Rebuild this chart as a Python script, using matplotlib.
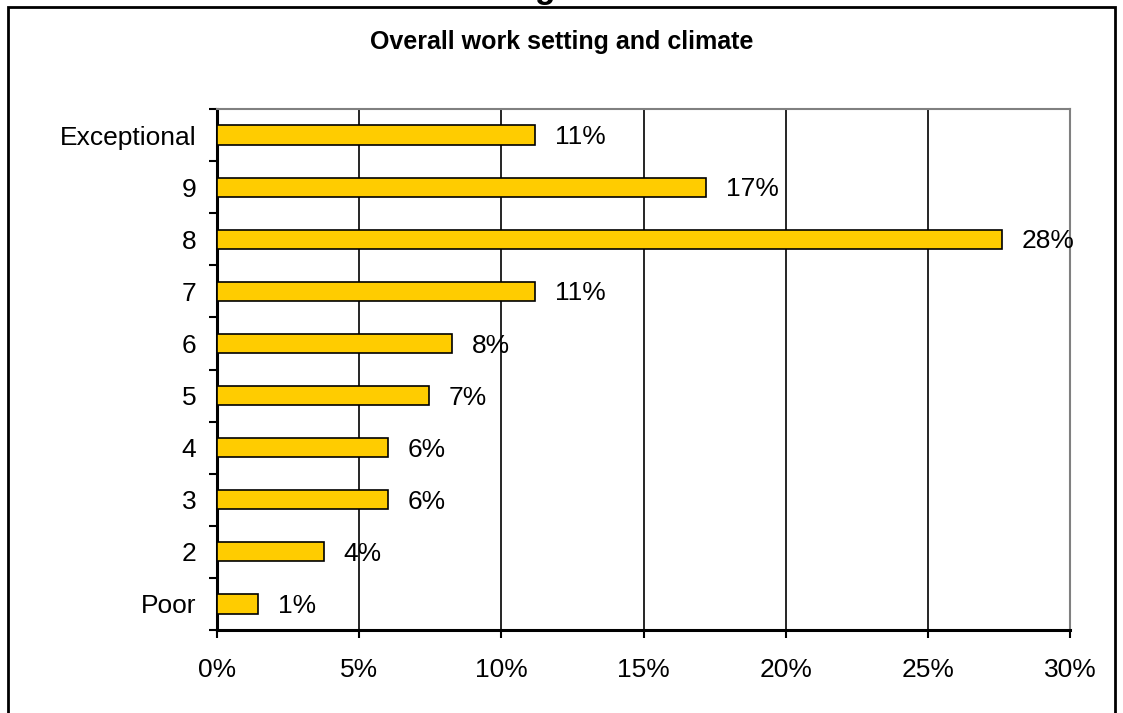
import matplotlib
matplotlib.use("Agg")
import matplotlib.pyplot as plt
from matplotlib.patches import Rectangle

plt.rcParams['font.family'] = ['Liberation Sans', 'DejaVu Sans']

categories = ['Poor', '2', '3', '4', '5', '6', '7', '8', '9', 'Exceptional']
values = [1.45, 3.75, 6.0, 6.0, 7.45, 8.25, 11.2, 27.6, 17.2, 11.2]
labels = ['1%', '4%', '6%', '6%', '7%', '8%', '11%', '28%', '17%', '11%']
xticks = [0, 5, 10, 15, 20, 25, 30]

fig = plt.figure(figsize=(11.23, 7.13), dpi=100)
W, H = 1123, 713

# outer chart frame (bottom edge is cut off)
fig.patches.append(Rectangle((8 / W, -0.05), (1115 - 8) / W, (713 - 7) / H + 0.05,
                             transform=fig.transFigure, fill=False,
                             edgecolor='black', linewidth=2))
# cropped heading above the frame, only the descender shows
fig.text(545 / W, 1 + 2 / H, 'g', ha='center', va='baseline', fontsize=24,
         fontweight='bold')

ax = fig.add_axes([217 / W, 1 - 630 / H, (1070 - 217) / W, (630 - 109) / H])
y = list(range(len(categories)))
ax.barh(y, values, height=0.37, color='#FFCC00', edgecolor='black',
        linewidth=1.2, zorder=3)
for yi, v, lab in zip(y, values, labels):
    ax.text(v + 0.7, yi - 0.04, lab, va='center', ha='left', fontsize=19, zorder=4)

ax.set_xlim(0, 30)
ax.set_ylim(-0.5, len(categories) - 0.5)
ax.set_xticks(xticks)
ax.set_xticklabels([f'{t}%' for t in xticks], fontsize=19)
ax.set_yticks(y)
ax.set_yticklabels(categories, fontsize=19)
ax.set_yticks([i - 0.5 for i in range(len(categories) + 1)], minor=True)
ax.tick_params(axis='y', which='major', length=0, pad=15)
ax.tick_params(axis='y', which='minor', length=6, width=1.5, direction='out')
ax.tick_params(axis='x', length=6, width=1.5, direction='out', pad=14)
ax.xaxis.grid(True, color='black', linewidth=1.2, zorder=0)
ax.set_axisbelow(True)
for s in ['left', 'bottom']:
    ax.spines[s].set_linewidth(2.2)
for s in ['top', 'right']:
    ax.spines[s].set_color('#808080')
    ax.spines[s].set_linewidth(1.5)

fig.text(0.5, 1 - 42 / H, 'Overall work setting and climate', ha='center',
         va='center', fontsize=18, fontweight='bold')

fig.savefig('out.png', dpi=100)
